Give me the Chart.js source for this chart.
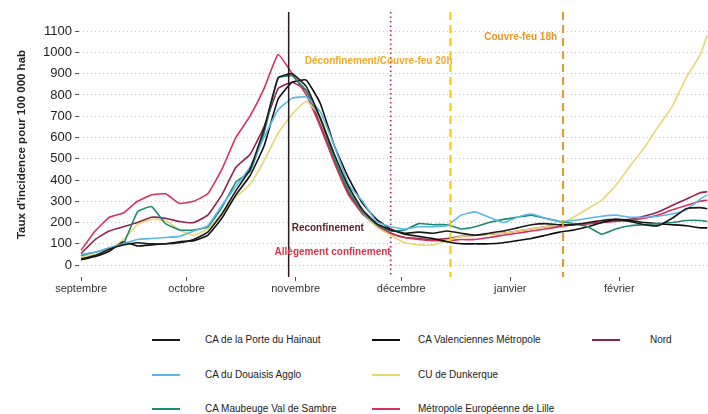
<!DOCTYPE html>
<html>
<head>
<meta charset="utf-8">
<script src="https://cdn.jsdelivr.net/npm/chart.js@4/dist/chart.umd.min.js"></script>
<style>
    body { margin: 0; background: #fff; font-family: "Liberation Sans", Arial, sans-serif; }
    #wrap { position: relative; width: 708px; height: 414px; }
    #chart { position: absolute; left: 0; top: 0; }
    .leg { position: absolute; font-size: 10px; color: #222; white-space: nowrap; }
    .leg i { position: absolute; left: 0; top: 50%; width: 28px; height: 2px; margin-top: -1px; }
    .leg span { position: absolute; top: -6px; }
</style>
</head>
<body>
<div id="wrap">
    <canvas id="chart" width="708" height="300"></canvas>
    <div id="legend"></div>
</div>
<script>
/* ============================================================
   DATA (day 0 = 1 septembre)
============================================================ */
const days = [0, 4, 8, 12, 16, 20, 24, 28, 32, 36, 40, 44, 48, 52, 56, 60, 64, 68, 72, 76, 80, 84, 88,
    92, 96, 100, 104, 108, 112, 116, 120, 124, 128, 132, 136, 140, 144, 148, 152, 156, 160, 164, 168, 172, 176, 178];

const porteHainaut = [30, 45, 75, 95, 105, 100, 100, 105, 120, 155, 240, 350, 450, 640, 880, 900, 840, 690, 520, 370, 260, 195, 165,
    150, 155, 150, 160, 150, 140, 150, 160, 175, 190, 195, 190, 190, 200, 210, 215, 205, 190, 185, 220, 265, 270, 265];
const douaisis = [50, 60, 80, 100, 120, 125, 130, 135, 160, 185, 280, 370, 460, 600, 730, 785, 790, 720, 560, 380, 300, 205, 180,
    170, 180, 180, 185, 235, 250, 225, 200, 225, 240, 220, 205, 210, 220, 230, 235, 225, 225, 230, 240, 260, 310, 330];
const maubeuge = [45, 60, 80, 100, 250, 275, 195, 165, 165, 180, 270, 390, 440, 620, 880, 890, 820, 690, 500, 350, 250, 190, 160,
    165, 195, 190, 190, 170, 180, 200, 215, 225, 235, 220, 205, 195, 180, 145, 170, 185, 190, 195, 200, 210, 210, 205];
const valenciennes = [25, 40, 65, 110, 90, 95, 100, 110, 115, 140, 220, 330, 420, 560, 780, 860, 870, 760, 560, 410, 290, 215, 170,
    145, 135, 125, 110, 100, 100, 100, 105, 115, 125, 140, 155, 165, 180, 200, 215, 210, 200, 195, 190, 185, 175, 175];
const dunkerque = [40, 50, 70, 120, 190, 215, 210, 165, 140, 170, 240, 320, 380, 490, 620, 710, 770, 700, 520, 360, 250, 180, 140,
    105, 95, 95, 115, 135, 140, 145, 150, 160, 170, 180, 190, 225, 265, 305, 375, 465, 550, 650, 745, 880, 990, 1080];
const lille = [70, 160, 225, 245, 300, 330, 335, 290, 300, 335, 450, 600, 700, 830, 990, 900, 800, 650, 480, 330, 240, 185, 150,
    130, 120, 115, 115, 120, 120, 130, 140, 150, 160, 170, 180, 190, 195, 200, 205, 210, 220, 235, 260, 280, 300, 305];
const nord = [55, 120, 160, 180, 200, 225, 220, 205, 200, 235, 330, 460, 520, 650, 830, 860, 820, 660, 490, 340, 245, 185, 150,
    130, 125, 120, 125, 135, 140, 145, 150, 160, 170, 180, 185, 190, 195, 200, 210, 215, 230, 250, 280, 310, 340, 345];

const seriesNames = ["CA de la Porte du Hainaut", "CA du Douaisis Agglo", "CA Maubeuge Val de Sambre",
    "CA Valenciennes Métropole", "CU de Dunkerque", "Métropole Européenne de Lille", "Nord"];
const seriesValues = [porteHainaut, douaisis, maubeuge, valenciennes, dunkerque, lille, nord];
const seriesColors = ["#1b1b1b", "#5bb8e6", "#1e8a72", "#0f0f0f", "#e6d873", "#d6305c", "#8e2450"];

const monthDays = [0, 30, 61, 91, 122, 153];
const monthLabels = ["septembre", "octobre", "novembre", "décembre", "janvier", "février"];
const yTicks = [0, 100, 200, 300, 400, 500, 600, 700, 800, 900, 1000, 1100];

const eventDays = [59, 88, 105, 137];
const eventLabels = ["Reconfinement", "Allègement confinement", "Déconfinement/Couvre-feu 20h", "Couvre-feu 18h"];
const eventLineColors = ["#2a1a1e", "#a8284e", "#f5c518", "#e09a2c"];
const eventTextColors = ["#5c1c2c", "#d83446", "#f0aa2a", "#e8962a"];

/* ============================================================
   EVENT LINES PLUGIN
============================================================ */
const eventPlugin = {
    id: "events",
    afterDatasetsDraw(chart) {
        const { ctx, chartArea, scales } = chart;
        const dashes = [[], [1.5, 3], [8, 5], [8, 5]];
        const widths = [1.5, 1.6, 2, 2];
        // label anchor: [dx, y, align]
        const anchors = [[3, 228, "left"], [0, 252, "right"], [2, 61, "right"], [-6, 37, "right"]];

        eventDays.forEach((d, i) => {
            const x = scales.x.getPixelForValue(d);
            ctx.save();
            ctx.strokeStyle = eventLineColors[i];
            ctx.lineWidth = widths[i];
            ctx.setLineDash(dashes[i]);
            ctx.beginPath();
            ctx.moveTo(x, chartArea.top);
            ctx.lineTo(x, chartArea.bottom);
            ctx.stroke();

            ctx.setLineDash([]);
            ctx.fillStyle = eventTextColors[i];
            ctx.font = "bold 10px 'Liberation Sans', Arial, sans-serif";
            ctx.textAlign = anchors[i][2];
            ctx.textBaseline = "middle";
            ctx.fillText(eventLabels[i], x + anchors[i][0], anchors[i][1]);
            ctx.restore();
        });
    }
};

/* ============================================================
   CHART
============================================================ */
const ctx = document.getElementById("chart").getContext("2d");

new Chart(ctx, {
    type: "line",
    data: {
        datasets: seriesNames.map((name, i) => ({
            label: name,
            data: days.map((d, j) => ({ x: d, y: seriesValues[i][j] })),
            borderColor: seriesColors[i],
            borderWidth: 1.6,
            pointRadius: 0,
            tension: 0.12,
            fill: false
        }))
    },
    options: {
        responsive: false,
        animation: false,
        layout: { padding: { top: 12, right: 0, bottom: 0, left: 0 } },
        plugins: {
            legend: { display: false },
            tooltip: { enabled: false }
        },
        scales: {
            x: {
                type: "linear",
                min: -0.6,
                max: 178.2,
                afterBuildTicks: s => { s.ticks = monthDays.map(v => ({ value: v })); },
                afterFit: s => { s.height = 23; },
                ticks: {
                    callback: v => monthLabels[monthDays.indexOf(v)],
                    color: "#333",
                    font: { size: 11, family: "'Liberation Sans', Arial" },
                    padding: 1,
                    maxRotation: 0,
                    autoSkip: false
                },
                grid: { drawOnChartArea: false, tickLength: 4, tickColor: "#555" },
                border: { display: false }
            },
            y: {
                min: -56,
                max: 1190,
                afterBuildTicks: s => { s.ticks = yTicks.map(v => ({ value: v })); },
                afterFit: s => { s.width = 79; },
                ticks: {
                    callback: v => String(v),
                    color: "#222",
                    font: { size: 13, family: "'Liberation Sans', Arial" },
                    padding: 3
                },
                grid: { color: "#c8c8c8", lineWidth: 1, tickLength: 4, tickColor: "#555", tickBorderDash: [] },
                border: { display: false, dash: [1, 3] },
                title: {
                    display: true,
                    text: "Taux d'incidence pour 100 000 hab",
                    color: "#222",
                    font: { size: 11.5, weight: "bold", family: "'Liberation Sans', Arial" },
                    padding: { top: 15, bottom: 0 }
                }
            }
        }
    },
    plugins: [eventPlugin]
});

/* ============================================================
   LEGEND (3 rows, column-major)
============================================================ */
const legCols = [152, 372, 592];
const legRows = [340, 375, 409];
const legBox = document.getElementById("legend");

seriesNames.forEach((name, i) => {
    const col = Math.floor(i / 3), row = i % 3;
    const textDx = col === 2 ? 58 : (col === 0 ? 53 : 46);
    legBox.innerHTML += `
    <div class="leg" style="left:${legCols[col]}px; top:${legRows[row]}px;">
        <i style="background:${seriesColors[i]}"></i>
        <span style="left:${textDx}px">${name}</span>
    </div>`;
});
</script>
</body>
</html>
